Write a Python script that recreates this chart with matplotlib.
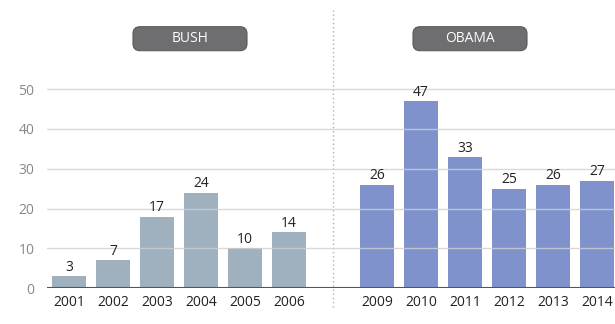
import matplotlib
matplotlib.use("Agg")
import matplotlib.pyplot as plt
from matplotlib.patches import FancyBboxPatch

bush_years = ["2001", "2002", "2003", "2004", "2005", "2006"]
bush_heights = [3, 7, 18, 24, 10, 14]
bush_labels = ["3", "7", "17", "24", "10", "14"]
obama_years = ["2009", "2010", "2011", "2012", "2013", "2014"]
obama_heights = [26, 47, 33, 25, 26, 27]
obama_labels = ["26", "47", "33", "25", "26", "27"]
y_ticks = [0, 10, 20, 30, 40, 50]

plt.rcParams['font.family'] = ['Open Sans', 'DejaVu Sans']

fig = plt.figure(figsize=(6.15, 3.24), dpi=100)
fig.patch.set_facecolor('white')
ax = fig.add_axes([47/615, (324-288.3)/324, 1 - 47/615, (288.3-5)/324])

bx = list(range(len(bush_years)))
ox = [i + 7 for i in range(len(obama_years))]
bw = 0.77

ax.bar(bx, bush_heights, width=bw, color='#9fb0bf', zorder=2)
ax.bar(ox, obama_heights, width=bw, color='#7f92cc', zorder=2)

for x, h, l in zip(bx, bush_heights, bush_labels):
    ax.text(x, h + 0.3, l, ha='center', va='bottom', fontsize=10, color='#222222', zorder=4)
for x, h, l in zip(ox, obama_heights, obama_labels):
    ax.text(x, h + 0.3, l, ha='center', va='bottom', fontsize=10, color='#222222', zorder=4)

ax.set_xlim(-0.5, 12.41)
ax.set_ylim(0, 50 / (288.3 - 89) * (288.3 - 5))

for y in y_ticks[1:]:
    ax.axhline(y, color='#d0d0d0', lw=1.0, zorder=3, alpha=0.8)
ax.axhline(0, color='#555555', lw=1.5, zorder=4)

ax.axvline(6, color='#b0b0b0', lw=1.0, ls=(0, (1, 2)), ymin=-0.066, ymax=0.982,
           zorder=1, clip_on=False)

ax.set_xticks(bx + ox)
ax.set_xticklabels(bush_years + obama_years, fontsize=10, color='#222222')
ax.set_yticks(y_ticks)
ax.set_yticklabels([str(v) for v in y_ticks], fontsize=10, color='#888888')
ax.tick_params(axis='both', length=0)
ax.tick_params(axis='y', pad=9)
ax.tick_params(axis='x', pad=5)
for s in ax.spines.values():
    s.set_visible(False)
ax.set_facecolor('none')

def label_box(xc, text):
    w, h = 114, 24
    x0 = xc - w / 2
    y0 = 324 - 50.7
    box = FancyBboxPatch((x0, y0), w, h,
                         boxstyle="round,pad=0,rounding_size=7",
                         transform=None, facecolor='#6e6e70',
                         edgecolor='#5a5a5c', lw=0.8)
    fig.patches.append(box)
    fig.text(xc / 615, (y0 + h / 2) / 324, text, ha='center', va='center',
             color='white', fontsize=10)

label_box(190, "BUSH")
label_box(470, "OBAMA")

fig.savefig("out.png", dpi=100)
